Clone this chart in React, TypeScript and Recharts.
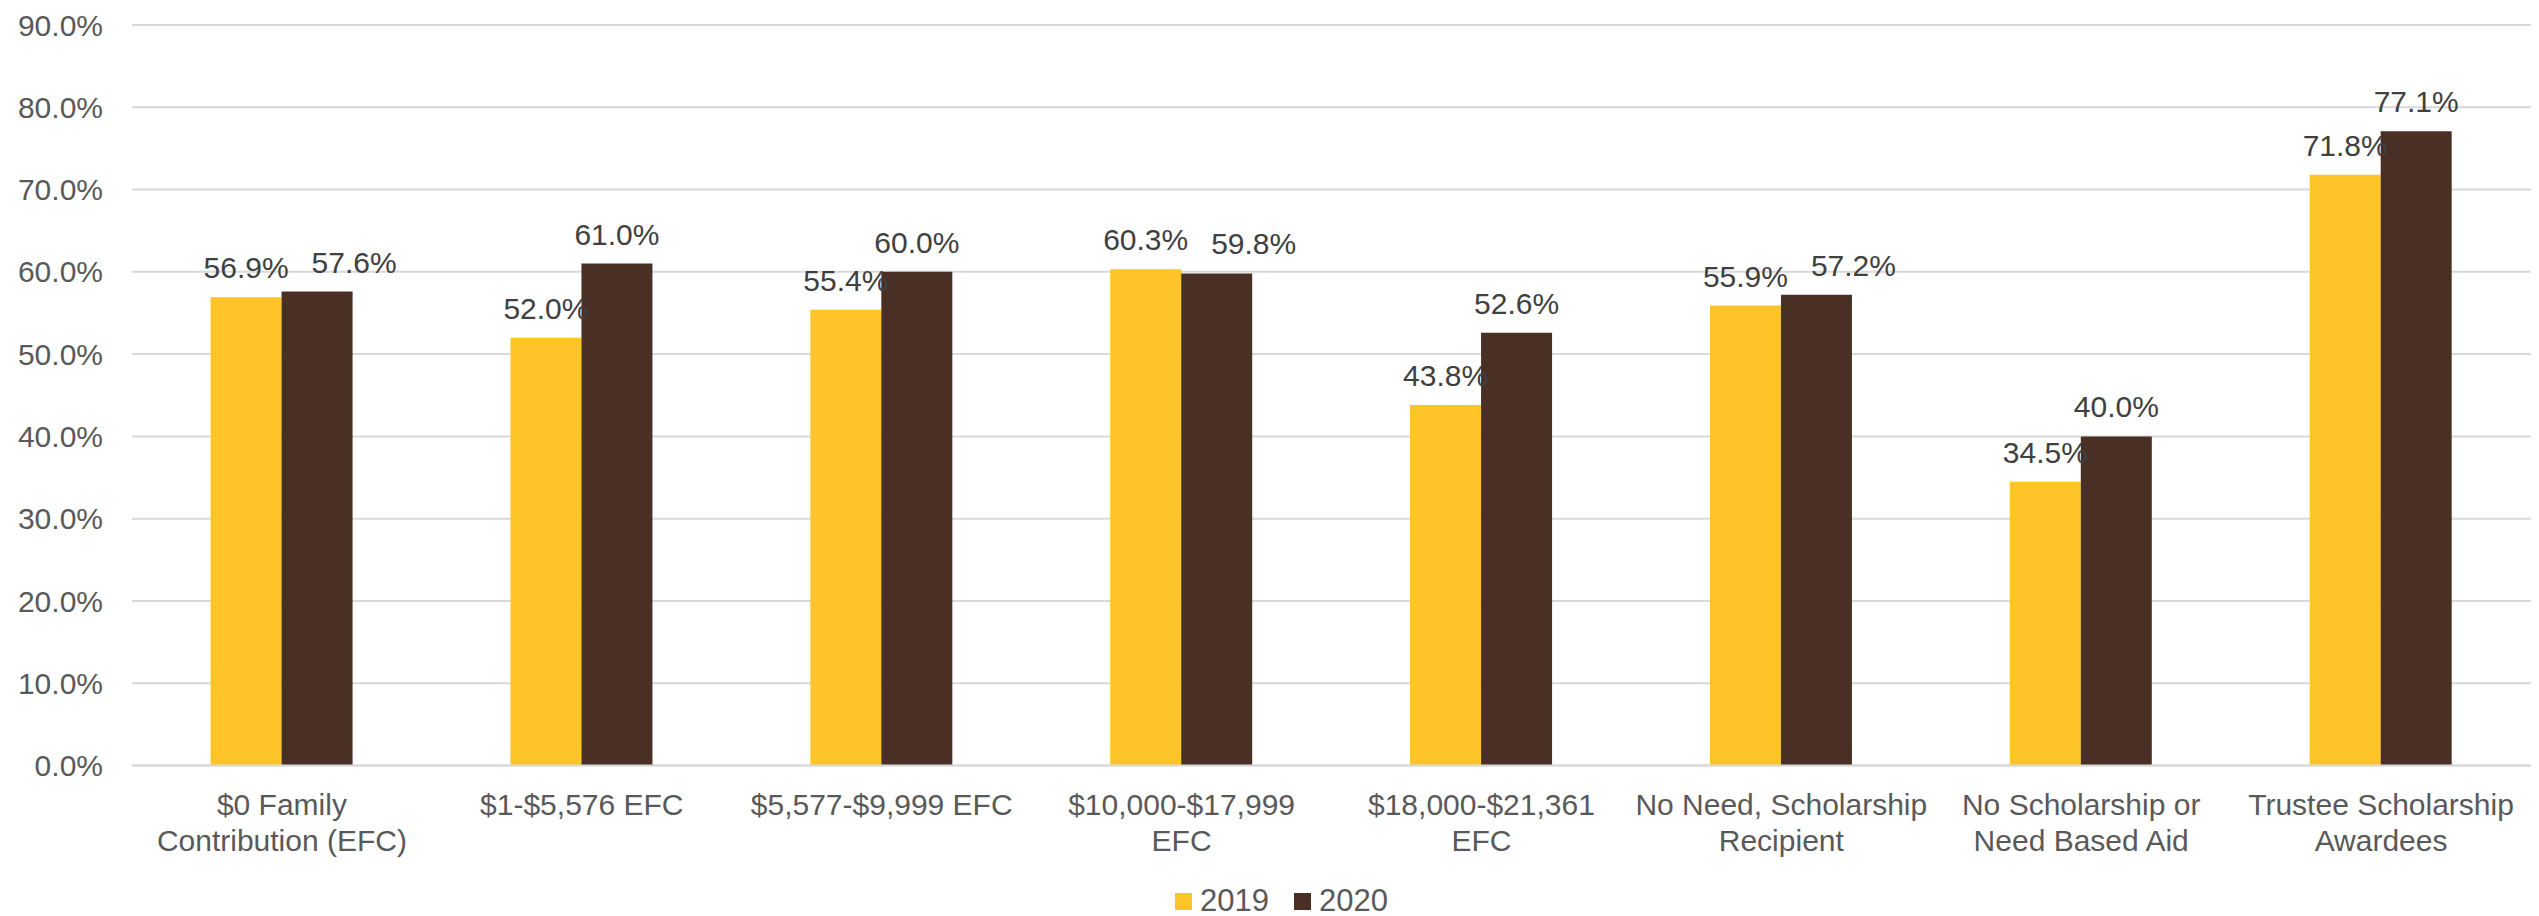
import React from 'react';
import { BarChart, Bar, XAxis, YAxis, CartesianGrid, Legend, LabelList } from 'recharts';

if (typeof document !== 'undefined') {
  document.body.style.margin = '0';
}

const categories: string[] = [
  '$0 Family\nContribution (EFC)',
  '$1-$5,576 EFC',
  '$5,577-$9,999 EFC',
  '$10,000-$17,999\nEFC',
  '$18,000-$21,361\nEFC',
  'No Need, Scholarship\nRecipient',
  'No Scholarship or\nNeed Based Aid',
  'Trustee Scholarship\nAwardees',
];
const values2019: number[] = [56.9, 52.0, 55.4, 60.3, 43.8, 55.9, 34.5, 71.8];
const values2020: number[] = [57.6, 61.0, 60.0, 59.8, 52.6, 57.2, 40.0, 77.1];
const yTicks: number[] = [0, 10, 20, 30, 40, 50, 60, 70, 80, 90];
const seriesNames: string[] = ['2019', '2020'];

const COLORS = ['#FFC528', '#4A2F24'];
const FONT = '"Liberation Sans", Arial, sans-serif';

const data = categories.map((c, i) => ({
  category: c,
  v2019: values2019[i],
  v2020: values2020[i],
}));

const fmt = (v: number) => `${Number(v).toFixed(1)}%`;

const XTick = (props: any) => {
  const { x, y, payload } = props;
  const lines = String(payload.value).split('\n');
  return (
    <text x={x} y={y} textAnchor="middle" fill="#595959" fontSize={30} fontFamily={FONT}>
      {lines.map((l, i) => (
        <tspan key={i} x={x} dy={i === 0 ? 49.5 : 36}>
          {l}
        </tspan>
      ))}
    </text>
  );
};

const makeLabel = (series: number) => (props: any) => {
  const vb = props.viewBox && props.viewBox.width !== undefined ? props.viewBox : props;
  const x = Number(vb.x);
  const y = Number(vb.y);
  const width = Number(vb.width);
  const height = Number(vb.height);
  const value = Number(props.value);
  const index = Number(props.index);
  let dx = 0;
  if (series === 1 && value > 0) {
    // avoid overlap with the neighbouring 2019 label (as the source chart does)
    const other = values2019[index];
    const otherTop = y + height - (height * other) / value;
    if (Math.abs(otherTop - y) < 30) dx = 37;
  }
  return (
    <text
      x={x + width / 2 + dx}
      y={y - 19}
      textAnchor="middle"
      fill="#404040"
      fontSize={30}
      fontFamily={FONT}
    >
      {fmt(value)}
    </text>
  );
};

const LegendContent = () => (
  <div
    style={{
      display: 'flex',
      alignItems: 'center',
      height: 40,
      fontFamily: FONT,
      fontSize: 31,
      color: '#595959',
    }}
  >
    {seriesNames.map((n, i) => (
      <div key={n} style={{ display: 'flex', alignItems: 'center', marginRight: i === 0 ? 25 : 0 }}>
        <div style={{ width: 17, height: 17, background: COLORS[i], marginRight: 8 }} />
        <span>{n}</span>
      </div>
    ))}
  </div>
);

export default function App() {
  return (
    <div style={{ width: 2539, height: 916, background: '#fff' }}>
      <BarChart
        width={2539}
        height={916}
        data={data}
        margin={{ top: 25, right: 8, left: 0, bottom: 0 }}
        barCategoryGap="26.2%"
        barGap={0}
      >
        <CartesianGrid vertical={false} stroke="#D9D9D9" strokeWidth={2} />
        <XAxis
          dataKey="category"
          interval={0}
          tick={<XTick />}
          tickLine={false}
          tickSize={0}
          tickMargin={0}
          height={110.5}
          axisLine={{ stroke: '#D9D9D9', strokeWidth: 2 }}
        />
        <YAxis
          domain={[0, 90]}
          ticks={yTicks}
          tickFormatter={fmt}
          width={132}
          axisLine={false}
          tickLine={false}
          tickSize={0}
          tickMargin={29}
          tick={{ fill: '#595959', fontSize: 30, fontFamily: FONT }}
          interval={0}
        />
        <Legend
          verticalAlign="bottom"
          content={<LegendContent />}
          wrapperStyle={{ left: 1175, top: 881, bottom: 'auto', width: 'auto', height: 40 }}
        />
        <Bar dataKey="v2019" name="2019" fill={COLORS[0]} isAnimationActive={false}>
          <LabelList dataKey="v2019" content={makeLabel(0)} />
        </Bar>
        <Bar dataKey="v2020" name="2020" fill={COLORS[1]} isAnimationActive={false}>
          <LabelList dataKey="v2020" content={makeLabel(1)} />
        </Bar>
      </BarChart>
    </div>
  );
}
